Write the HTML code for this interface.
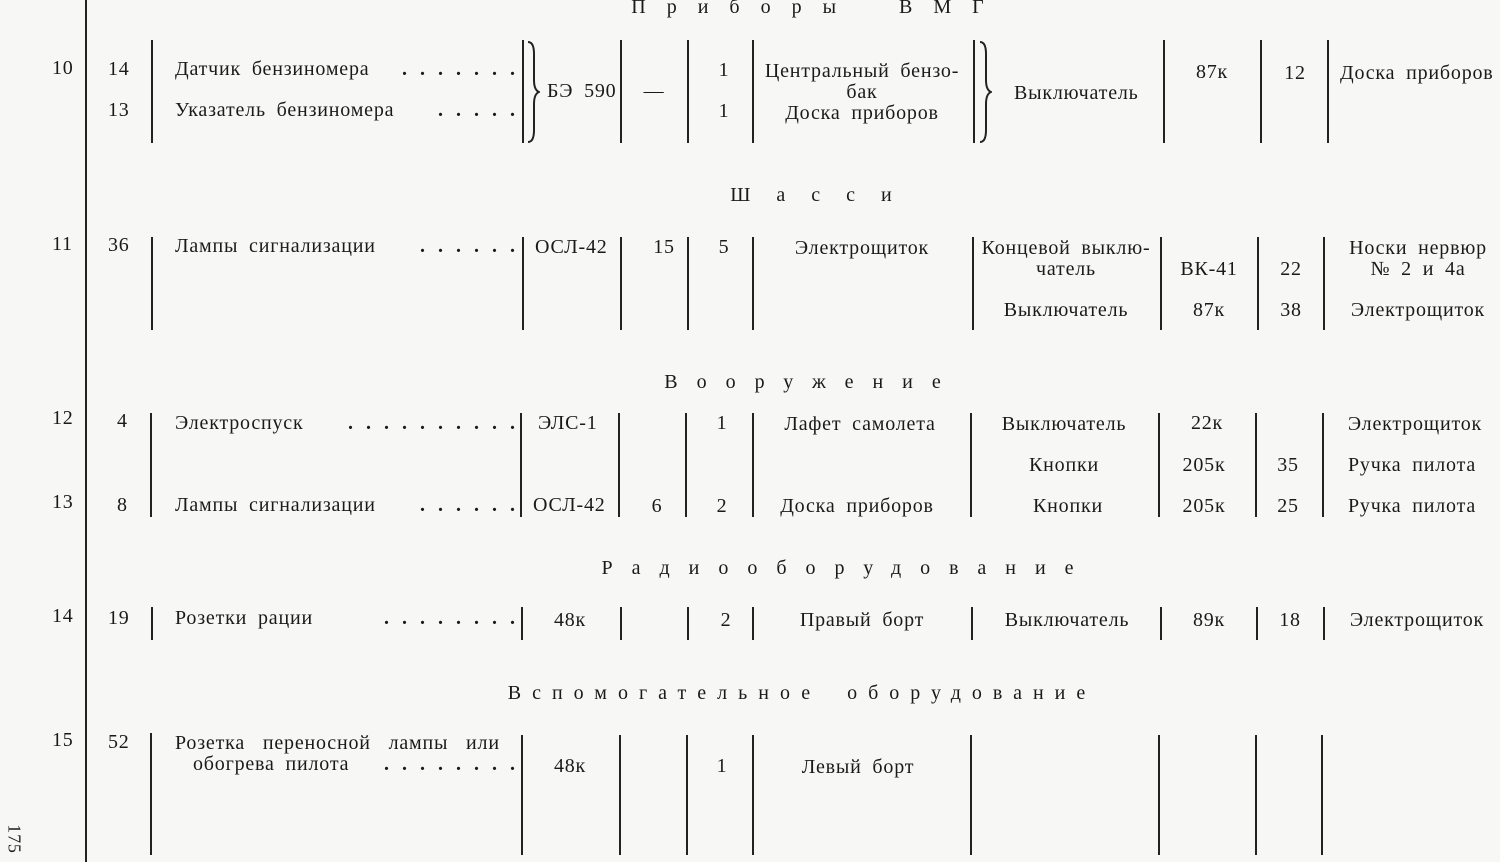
<!DOCTYPE html>
<html><head><meta charset="utf-8"><style>
body{margin:0;width:1500px;height:862px;background:#f7f7f5;position:relative;overflow:hidden;font-family:"Liberation Serif","DejaVu Serif",serif;color:#1a1a1a}
.t{position:absolute;font-size:20px;line-height:22px;white-space:nowrap;letter-spacing:0.8px;word-spacing:5px}
.c{transform:translateX(-50%);text-align:center}
.d{position:absolute;font-size:20px;line-height:22px;white-space:nowrap;letter-spacing:13px;font-weight:bold;transform:translateX(-100%)}
.v{position:absolute;width:2px;background:#222}
</style></head><body>
<div class="v" style="left:85px;top:0;height:862px;width:2px"></div>

<div class="t c" style="left:818px;top:-4px;letter-spacing:21px;word-spacing:16px">Приборы ВМГ</div>
<div class="t c" style="left:824px;top:184px;letter-spacing:26px">Шасси</div>
<div class="t c" style="left:812px;top:371px;letter-spacing:19px">Вооружение</div>
<div class="t c" style="left:847px;top:557px;letter-spacing:19px">Радиооборудование</div>
<div class="t c" style="left:802px;top:682px;letter-spacing:11px;word-spacing:10px">Вспомогательное оборудование</div>

<!-- row 10 -->
<div class="t" style="left:52px;top:57px">10</div>
<div class="t" style="left:108px;top:58px">14</div>
<div class="t" style="left:108px;top:99px">13</div>
<div class="v" style="left:151px;top:40px;height:103px"></div>
<div class="t" style="left:175px;top:58px">Датчик бензиномера</div>
<div class="d" style="left:528px;top:58px">.......</div>
<div class="t" style="left:175px;top:99px">Указатель бензиномера</div>
<div class="d" style="left:528px;top:99px">.....</div>
<div class="v" style="left:522px;top:40px;height:103px"></div>
<svg style="position:absolute;left:526px;top:40px" width="14" height="104"><path d="M2 2 Q8 2 8 14 L8 40 Q8 50 13 52 Q8 54 8 64 L8 90 Q8 102 2 102" fill="none" stroke="#222" stroke-width="2"/></svg>
<div class="t" style="left:547px;top:80px">БЭ 590</div>
<div class="v" style="left:620px;top:40px;height:103px"></div>
<div class="t c" style="left:654px;top:80px">—</div>
<div class="v" style="left:687px;top:40px;height:103px"></div>
<div class="t c" style="left:724px;top:59px">1</div>
<div class="t c" style="left:724px;top:100px">1</div>
<div class="v" style="left:752px;top:40px;height:103px"></div>
<div class="t c" style="left:862px;top:61px;line-height:21px">Центральный бензо-<br>бак<br>Доска приборов</div>
<div class="v" style="left:973px;top:40px;height:103px"></div>
<svg style="position:absolute;left:978px;top:40px" width="14" height="104"><path d="M2 2 Q8 2 8 14 L8 40 Q8 50 13 52 Q8 54 8 64 L8 90 Q8 102 2 102" fill="none" stroke="#222" stroke-width="2"/></svg>
<div class="t" style="left:1014px;top:82px">Выключатель</div>
<div class="v" style="left:1163px;top:40px;height:103px"></div>
<div class="t c" style="left:1212px;top:61px">87к</div>
<div class="v" style="left:1260px;top:40px;height:103px"></div>
<div class="t c" style="left:1295px;top:62px">12</div>
<div class="v" style="left:1327px;top:40px;height:103px"></div>
<div class="t" style="left:1340px;top:62px">Доска приборов</div>

<!-- row 11 -->
<div class="t" style="left:52px;top:233px">11</div>
<div class="t" style="left:108px;top:234px">36</div>
<div class="v" style="left:151px;top:237px;height:93px"></div>
<div class="t" style="left:175px;top:235px">Лампы сигнализации</div>
<div class="d" style="left:528px;top:235px">......</div>
<div class="v" style="left:522px;top:237px;height:93px"></div>
<div class="t" style="left:535px;top:236px">ОСЛ-42</div>
<div class="v" style="left:620px;top:237px;height:93px"></div>
<div class="t c" style="left:664px;top:236px">15</div>
<div class="v" style="left:687px;top:237px;height:93px"></div>
<div class="t c" style="left:724px;top:236px">5</div>
<div class="v" style="left:752px;top:237px;height:93px"></div>
<div class="t c" style="left:862px;top:237px">Электрощиток</div>
<div class="v" style="left:972px;top:237px;height:93px"></div>
<div class="t c" style="left:1066px;top:238px;line-height:21px">Концевой выклю-<br>чатель</div>
<div class="t c" style="left:1066px;top:299px">Выключатель</div>
<div class="v" style="left:1160px;top:237px;height:93px"></div>
<div class="t c" style="left:1209px;top:258px">ВК-41</div>
<div class="t c" style="left:1209px;top:299px">87к</div>
<div class="v" style="left:1257px;top:237px;height:93px"></div>
<div class="t c" style="left:1291px;top:258px">22</div>
<div class="t c" style="left:1291px;top:299px">38</div>
<div class="v" style="left:1323px;top:237px;height:93px"></div>
<div class="t c" style="left:1418px;top:238px;line-height:21px">Носки нервюр<br>№ 2 и 4а</div>
<div class="t c" style="left:1418px;top:299px">Электрощиток</div>

<!-- row 12/13 -->
<div class="t" style="left:52px;top:407px">12</div>
<div class="t" style="left:117px;top:410px">4</div>
<div class="t" style="left:52px;top:491px">13</div>
<div class="t" style="left:117px;top:494px">8</div>
<div class="v" style="left:150px;top:413px;height:104px"></div>
<div class="t" style="left:175px;top:412px">Электроспуск</div>
<div class="d" style="left:528px;top:412px">..........</div>
<div class="t" style="left:175px;top:494px">Лампы сигнализации</div>
<div class="d" style="left:528px;top:494px">......</div>
<div class="v" style="left:520px;top:413px;height:104px"></div>
<div class="t" style="left:538px;top:412px">ЭЛС-1</div>
<div class="t" style="left:533px;top:494px">ОСЛ-42</div>
<div class="v" style="left:618px;top:413px;height:104px"></div>
<div class="t c" style="left:657px;top:495px">6</div>
<div class="v" style="left:685px;top:413px;height:104px"></div>
<div class="t c" style="left:722px;top:412px">1</div>
<div class="t c" style="left:722px;top:495px">2</div>
<div class="v" style="left:752px;top:413px;height:104px"></div>
<div class="t c" style="left:860px;top:413px">Лафет самолета</div>
<div class="t c" style="left:857px;top:495px">Доска приборов</div>
<div class="v" style="left:970px;top:413px;height:104px"></div>
<div class="t c" style="left:1064px;top:413px">Выключатель</div>
<div class="t c" style="left:1064px;top:454px">Кнопки</div>
<div class="t c" style="left:1068px;top:495px">Кнопки</div>
<div class="v" style="left:1158px;top:413px;height:104px"></div>
<div class="t c" style="left:1207px;top:412px">22к</div>
<div class="t c" style="left:1204px;top:454px">205к</div>
<div class="t c" style="left:1204px;top:495px">205к</div>
<div class="v" style="left:1255px;top:413px;height:104px"></div>
<div class="t c" style="left:1288px;top:454px">35</div>
<div class="t c" style="left:1288px;top:495px">25</div>
<div class="v" style="left:1322px;top:413px;height:104px"></div>
<div class="t c" style="left:1415px;top:413px">Электрощиток</div>
<div class="t c" style="left:1412px;top:454px">Ручка пилота</div>
<div class="t c" style="left:1412px;top:495px">Ручка пилота</div>

<!-- row 14 -->
<div class="t" style="left:52px;top:605px">14</div>
<div class="t" style="left:108px;top:607px">19</div>
<div class="v" style="left:151px;top:607px;height:33px"></div>
<div class="t" style="left:175px;top:607px">Розетки рации</div>
<div class="d" style="left:528px;top:607px">........</div>
<div class="v" style="left:521px;top:607px;height:33px"></div>
<div class="t c" style="left:570px;top:609px">48к</div>
<div class="v" style="left:620px;top:607px;height:33px"></div>
<div class="v" style="left:687px;top:607px;height:33px"></div>
<div class="t c" style="left:726px;top:609px">2</div>
<div class="v" style="left:752px;top:607px;height:33px"></div>
<div class="t c" style="left:862px;top:609px">Правый борт</div>
<div class="v" style="left:971px;top:607px;height:33px"></div>
<div class="t c" style="left:1067px;top:609px">Выключатель</div>
<div class="v" style="left:1160px;top:607px;height:33px"></div>
<div class="t c" style="left:1209px;top:609px">89к</div>
<div class="v" style="left:1256px;top:607px;height:33px"></div>
<div class="t c" style="left:1290px;top:609px">18</div>
<div class="v" style="left:1323px;top:607px;height:33px"></div>
<div class="t c" style="left:1417px;top:609px">Электрощиток</div>

<!-- row 15 -->
<div class="t" style="left:52px;top:729px">15</div>
<div class="t" style="left:108px;top:731px">52</div>
<div class="v" style="left:150px;top:733px;height:122px"></div>
<div class="t" style="left:175px;top:732px;word-spacing:12px">Розетка переносной лампы или</div>
<div class="t" style="left:193px;top:753px">обогрева пилота</div>
<div class="d" style="left:528px;top:753px">........</div>
<div class="v" style="left:521px;top:735px;height:120px"></div>
<div class="t c" style="left:570px;top:755px">48к</div>
<div class="v" style="left:619px;top:735px;height:120px"></div>
<div class="v" style="left:686px;top:735px;height:120px"></div>
<div class="t c" style="left:722px;top:755px">1</div>
<div class="v" style="left:752px;top:735px;height:120px"></div>
<div class="t c" style="left:858px;top:756px">Левый борт</div>
<div class="v" style="left:970px;top:735px;height:120px"></div>
<div class="v" style="left:1158px;top:735px;height:120px"></div>
<div class="v" style="left:1255px;top:735px;height:120px"></div>
<div class="v" style="left:1321px;top:735px;height:120px"></div>

<div class="t" style="left:0px;top:828px;transform:rotate(90deg);font-size:18px">175</div>
</body></html>
